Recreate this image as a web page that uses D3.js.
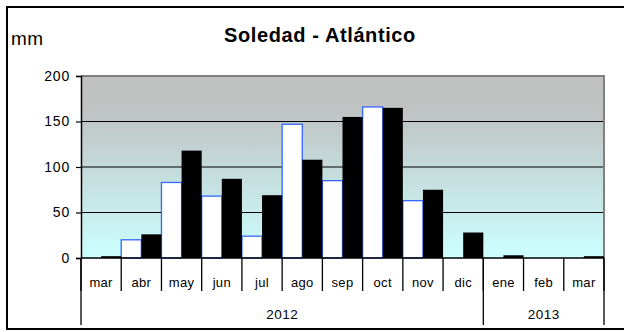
<!DOCTYPE html>
<html>
<head>
<meta charset="utf-8">
<script src="https://cdn.jsdelivr.net/npm/d3@7"></script>
<style>
  html, body { margin: 0; padding: 0; background: #fff; }
  svg { display: block; font-family: "Liberation Sans", Arial, sans-serif; }
</style>
</head>
<body>
<svg id="chart" width="624" height="332"></svg>
<script>
// Monthly precipitation (mm), two series per month
const months = ["mar", "abr", "may", "jun", "jul", "ago", "sep", "oct", "nov", "dic", "ene", "feb", "mar"];
const years = [{ label: "2012", span: 10 }, { label: "2013", span: 3 }];
const seriesA = [0, 20, 83, 68, 24, 147, 85, 166, 63, 0, 0, 0, 0];
const seriesB = [2, 26, 118, 87, 69, 108, 155, 165, 75, 28, 3, 0, 2];
const yTicks = [0, 50, 100, 150, 200];

const svg = d3.select("#chart");
const plotL = 81, plotR = 604, plotT = 76, plotB = 258;

const keys = months.map((m, i) => i);
const x = d3.scaleBand().domain(keys).range([plotL, plotR]).padding(0);
const xs = d3.scaleBand().domain(["a", "b"]).range([0, x.bandwidth()]).padding(0);
const y = d3.scaleLinear().domain([0, 200]).range([plotB, plotT]);

// outer frame
svg.append("rect").attr("x", 7).attr("y", 7).attr("width", 640).attr("height", 322)
  .attr("fill", "#fff").attr("stroke", "#000").attr("stroke-width", 2);

// plot-area gradient
const defs = svg.append("defs");
const grad = defs.append("linearGradient").attr("id", "bg").attr("x1", 0).attr("y1", 0).attr("x2", 0).attr("y2", 1);
grad.append("stop").attr("offset", "0%").attr("stop-color", "#c0c0c0");
grad.append("stop").attr("offset", "20%").attr("stop-color", "#c0c3c3");
grad.append("stop").attr("offset", "100%").attr("stop-color", "#ccffff");

svg.append("rect").attr("x", plotL).attr("y", plotT).attr("width", plotR - plotL).attr("height", plotB - plotT)
  .attr("fill", "url(#bg)");

// gridlines
svg.append("g").selectAll("line").data(yTicks.filter(d => d > 0 && d < 200)).join("line")
  .attr("x1", plotL).attr("x2", plotR).attr("y1", d => y(d)).attr("y2", d => y(d))
  .attr("stroke", "#000").attr("stroke-width", 1.2);

// plot-area border (top and right)
svg.append("path")
  .attr("d", `M${plotL},${plotT}H${plotR}V${plotB}`)
  .attr("fill", "none").attr("stroke", "#808080").attr("stroke-width", 2);

// bars
const g = svg.append("g");
g.selectAll("rect.a").data(keys).join("rect").attr("class", "a")
  .attr("x", i => x(i) + xs("a")).attr("width", xs.bandwidth())
  .attr("y", i => y(seriesA[i])).attr("height", i => y(0) - y(seriesA[i]))
  .attr("fill", "#fff").attr("stroke", i => seriesA[i] > 0 ? "#3366ff" : "none").attr("stroke-width", 1.3);
g.selectAll("rect.b").data(keys).join("rect").attr("class", "b")
  .attr("x", i => x(i) + xs("b")).attr("width", xs.bandwidth())
  .attr("y", i => y(seriesB[i])).attr("height", i => y(0) - y(seriesB[i]))
  .attr("fill", "#000");

// y axis
const yAxis = svg.append("g").attr("transform", `translate(${plotL},0)`)
  .call(d3.axisLeft(y).tickValues(yTicks).tickSize(5).tickPadding(6));
yAxis.select(".domain").attr("stroke", "#000").attr("stroke-width", 1.5);
yAxis.selectAll(".tick line").attr("stroke", "#000").attr("stroke-width", 1.2);
yAxis.selectAll(".tick text").attr("font-size", 14).attr("fill", "#000")
  .attr("letter-spacing", 0.8)
  .attr("font-family", "Liberation Sans, Arial, sans-serif");

// x axis baseline
svg.append("line").attr("x1", plotL).attr("x2", plotR).attr("y1", plotB).attr("y2", plotB)
  .attr("stroke", "#000").attr("stroke-width", 1.5);

// month separators and labels
const monthBottom = 291, yearBottom = 325;
const seps = keys.map(i => x(i)).concat([plotR]);
svg.append("g").selectAll("line").data(seps).join("line")
  .attr("x1", d => d).attr("x2", d => d).attr("y1", plotB).attr("y2", monthBottom)
  .attr("stroke", "#000").attr("stroke-width", 1.3);
svg.append("g").selectAll("text").data(keys).join("text")
  .attr("x", i => x(i) + x.bandwidth() / 2).attr("y", 286.5)
  .attr("text-anchor", "middle").attr("font-size", 13).attr("fill", "#000")
  .attr("letter-spacing", 0.3)
  .text(i => months[i]);

// year separators and labels
let acc = 0;
const yearPos = years.map(yr => { const s = acc; acc += yr.span; return { label: yr.label, s, e: acc }; });
const yearEdges = [plotL].concat(yearPos.map(p => p.e === keys.length ? plotR : x(p.e)));
svg.append("g").selectAll("line").data(yearEdges).join("line")
  .attr("x1", d => d).attr("x2", d => d).attr("y1", plotB).attr("y2", yearBottom)
  .attr("stroke", "#000").attr("stroke-width", 1.3);
svg.append("g").selectAll("text").data(yearPos).join("text")
  .attr("x", p => {
    const a = x(p.s), b = p.e === keys.length ? plotR : x(p.e);
    return (a + b) / 2;
  })
  .attr("y", 319).attr("text-anchor", "middle").attr("font-size", 13.5).attr("fill", "#000")
  .attr("letter-spacing", 0.5)
  .text(p => p.label);

// title and unit
svg.append("text").attr("x", 320).attr("y", 42).attr("text-anchor", "middle")
  .attr("font-size", 20).attr("font-weight", "bold").attr("fill", "#000")
  .attr("letter-spacing", 0.6)
  .text("Soledad - Atlántico");
svg.append("text").attr("x", 11).attr("y", 45).attr("font-size", 19).attr("fill", "#000")
  .attr("letter-spacing", 0.5)
  .text("mm");
</script>
</body>
</html>
